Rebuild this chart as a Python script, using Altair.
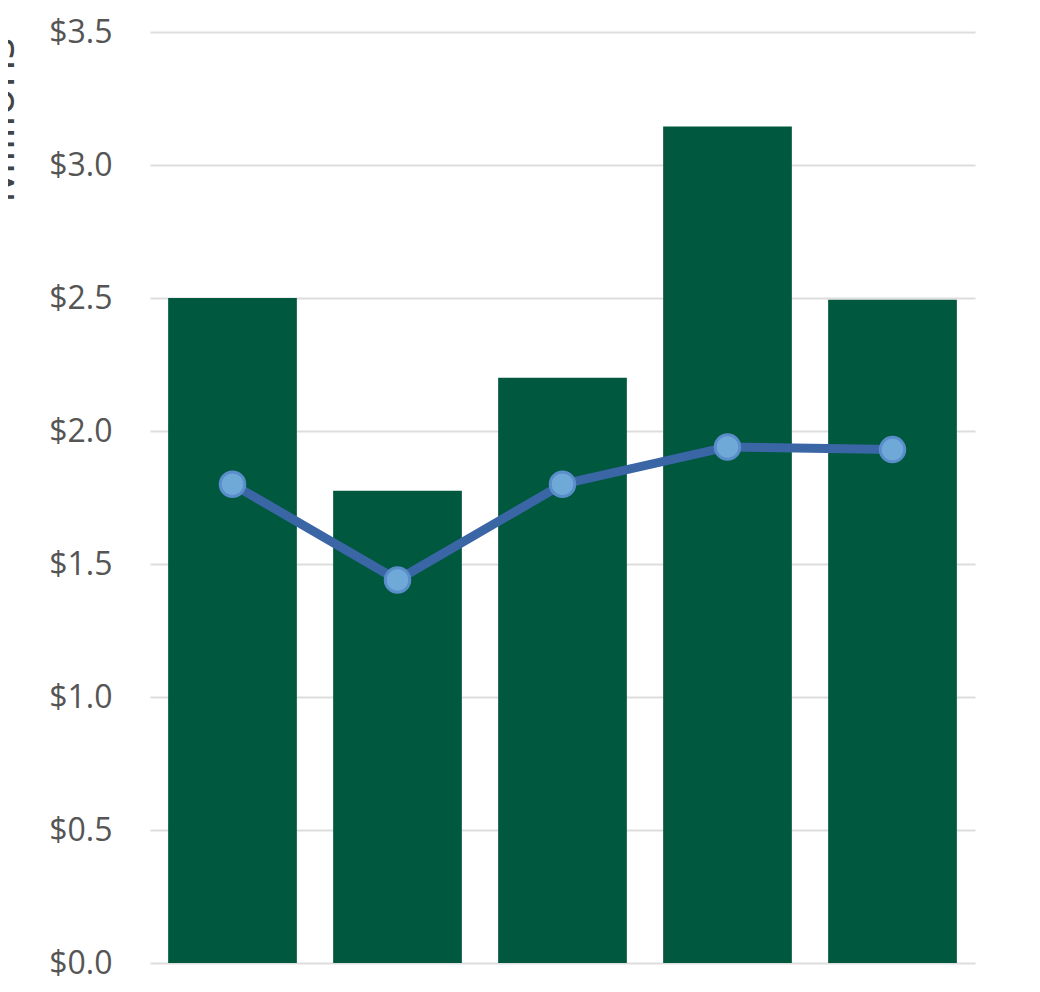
import altair as alt
import pandas as pd

categories = ["2019", "2020", "2021", "2022", "2023"]
bar_values = [2.50, 1.775, 2.20, 3.145, 2.493]
line_values = [1.80, 1.44, 1.80, 1.94, 1.93]
y_ticks = [0.0, 0.5, 1.0, 1.5, 2.0, 2.5, 3.0, 3.5]

df = pd.DataFrame({"cat": categories, "bar": bar_values, "line": line_values})

x = alt.X("cat:N", sort=categories, axis=None,
          scale=alt.Scale(paddingInner=0.22, paddingOuter=0.11))
yscale = alt.Scale(domain=[0, 3.5], nice=False, zero=True)

bars = alt.Chart(df).mark_bar(color="#00583f").encode(
    x=x,
    y=alt.Y("bar:Q", scale=yscale,
            axis=alt.Axis(values=y_ticks, format="$.1f", title="Millions",
                          titleX=-137, titleY=88, titleAngle=-90,
                          titleAlign="center", titleBaseline="alphabetic",
                          titleFontSize=46, titleFont="Open Sans", titleColor="#444444",
                          titleFontWeight="normal",
                          labelFont="Open Sans", labelFontSize=32, labelColor="#555555",
                          labelPadding=38, ticks=False, domain=False,
                          grid=True, gridColor="#dddddd", gridWidth=2)),
)

line = alt.Chart(df).mark_line(color="#3a66a6", strokeWidth=9).encode(
    x=x, y=alt.Y("line:Q", scale=yscale)
)

points = alt.Chart(df).mark_point(filled=True, fill="#6fa9d8", stroke="#5a8ecb",
                                  strokeWidth=3, size=600, opacity=1).encode(
    x=x, y=alt.Y("line:Q", scale=yscale)
)

chart = alt.layer(bars, line, points).properties(
    width=825, height=931,
    autosize=alt.AutoSizeParams(type="none"),
    padding={"left": 142, "top": 24, "right": 40, "bottom": 20},
).configure_view(stroke=None)

chart.save("out.html", embed_options={"renderer": "svg", "actions": False})
